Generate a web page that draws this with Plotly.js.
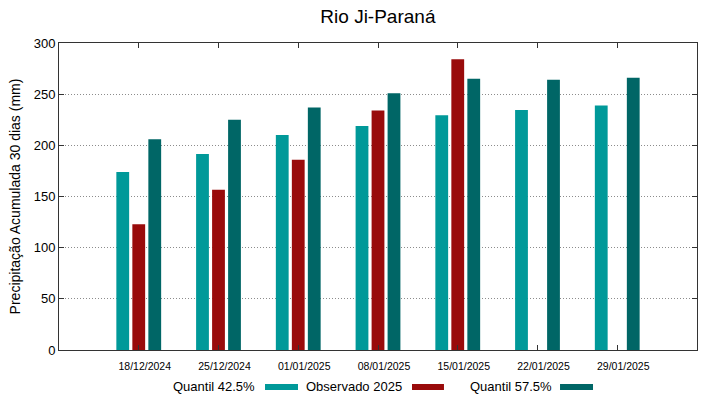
<!DOCTYPE html>
<html>
<head>
<meta charset="utf-8">
<script src="https://cdn.plot.ly/plotly-3.0.1.min.js"></script>
<style>html,body{margin:0;padding:0;background:#fff;}#chart{width:719px;height:399px;}</style>
</head>
<body>
<div id="chart"></div>
<script>
const categories = ["18/12/2024","25/12/2024","01/01/2025","08/01/2025","15/01/2025","22/01/2025","29/01/2025"];
const quantil425 = [174, 191.5, 210, 219, 229.5, 234.5, 239];
const observado2025 = [123, 156.5, 186, 234, 284, null, null];
const quantil575 = [206, 225, 237, 251, 265, 264, 266];
const seriesNames = ["Quantil 42.5%", "Observado 2025", "Quantil 57.5%"];
const seriesColors = ["#009999", "#990b0b", "#006666"];
const yTicks = [0, 50, 100, 150, 200, 250, 300];

const values = [quantil425, observado2025, quantil575];
const traces = values.map((v, i) => ({
  type: "bar",
  x: categories,
  y: v,
  name: seriesNames[i],
  marker: {color: seriesColors[i], line: {width: 0}},
  showlegend: false,
  hoverinfo: "x+y+name"
}));

// custom legend (text followed by a sample swatch, gnuplot style)
const legendText = [0.3103, 0.5408, 0.7759];
const legendSwatch = [[0.3229, 0.3746], [0.5533, 0.6034], [0.7853, 0.8370]];
const annotations = seriesNames.map((n, i) => ({
  xref: "paper", yref: "paper", x: legendText[i], y: -0.1205,
  xanchor: "right", yanchor: "middle", text: n, showarrow: false,
  font: {family: "Liberation Sans, Arial, sans-serif", size: 13, color: "#000"}
}));
const shapes = seriesNames.map((n, i) => ({
  type: "rect", xref: "paper", yref: "paper",
  x0: legendSwatch[i][0], x1: legendSwatch[i][1], y0: -0.1303, y1: -0.1107,
  fillcolor: seriesColors[i], line: {width: 0}
}));

const layout = {
  width: 719, height: 399,
  margin: {l: 59, r: 22, t: 43, b: 49},
  paper_bgcolor: "#fff", plot_bgcolor: "#fff",
  font: {family: "Liberation Sans, Arial, sans-serif", color: "#000"},
  title: {text: "Rio Ji-Paraná", x: 0.5256, xanchor: "center", y: 0.96, yanchor: "middle",
          font: {size: 19, family: "Liberation Sans, Arial, sans-serif", color: "#000"}},
  barmode: "group", bargap: 0.398, bargroupgap: 0.2,
  showlegend: false,
  xaxis: {
    type: "category", range: [-1, 7], fixedrange: true,
    ticks: "inside", ticklen: 5, tickcolor: "#333", mirror: "ticks",
    showline: true, linecolor: "#333", linewidth: 1,
    showgrid: false, zeroline: false,
    tickfont: {size: 10.5, color: "#000"}, ticklabelshift: 6, ticklabelstandoff: 6
  },
  yaxis: {
    range: [0, 300], tickvals: yTicks, fixedrange: true,
    ticks: "inside", ticklen: 5, tickcolor: "#333", mirror: "ticks",
    showline: true, linecolor: "#333", linewidth: 1,
    showgrid: true, gridcolor: "#8c8c8c", griddash: "1px,2px", gridwidth: 1,
    zeroline: false,
    tickfont: {size: 13, color: "#000"},
    title: {text: "Precipitação Acumulada 30 dias (mm)", font: {size: 14, color: "#000"}, standoff: 9}
  },
  annotations: annotations,
  shapes: shapes
};

Plotly.newPlot("chart", traces, layout, {staticPlot: true, displayModeBar: false});
</script>
</body>
</html>
